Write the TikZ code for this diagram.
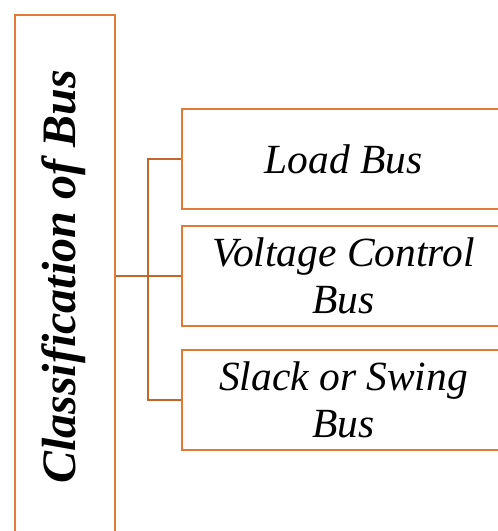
\documentclass[tikz,border=0pt]{standalone}
\usepackage{fontspec}
\setmainfont{Liberation Serif}
\definecolor{boxc}{HTML}{E07A36}
\definecolor{connc}{HTML}{C4662C}
\begin{document}
\begin{tikzpicture}[x=1pt,y=-1pt,
  box/.style={draw=boxc,line width=2.4pt,inner sep=0pt,rectangle},
  conn/.style={draw=connc,line width=2.4pt},
  bustext/.style={align=center,font=\fontsize{41.5}{47}\selectfont\itshape},
  titletext/.style={font=\fontsize{48}{55}\selectfont\bfseries\itshape}]
\useasboundingbox (0,0) rectangle (498,531);
\clip (0,0) rectangle (498,531);
\node[box, anchor=north west, minimum width=100pt, minimum height=560pt] (cls) at (14,14) {};
\node[titletext, rotate=90] (clstext) at (64,277) {Classification of Bus};
\node[box, minimum width=323pt, minimum height=100pt, bustext] (load) at (343.5,159) {Load Bus};
\node[box, minimum width=323pt, minimum height=100pt, bustext] (volt) at (343.5,276) {Voltage Control\\Bus};
\node[box, minimum width=323pt, minimum height=100pt, bustext] (slack) at (343.5,400) {Slack or Swing\\Bus};
\coordinate (j) at (148,276);
\draw[conn] (cls.east |- j) -- (j);
\draw[conn] (j) |- (load.west);
\draw[conn] (j) |- (slack.west);
\draw[conn] (j) -- (volt.west);
\end{tikzpicture}
\end{document}
